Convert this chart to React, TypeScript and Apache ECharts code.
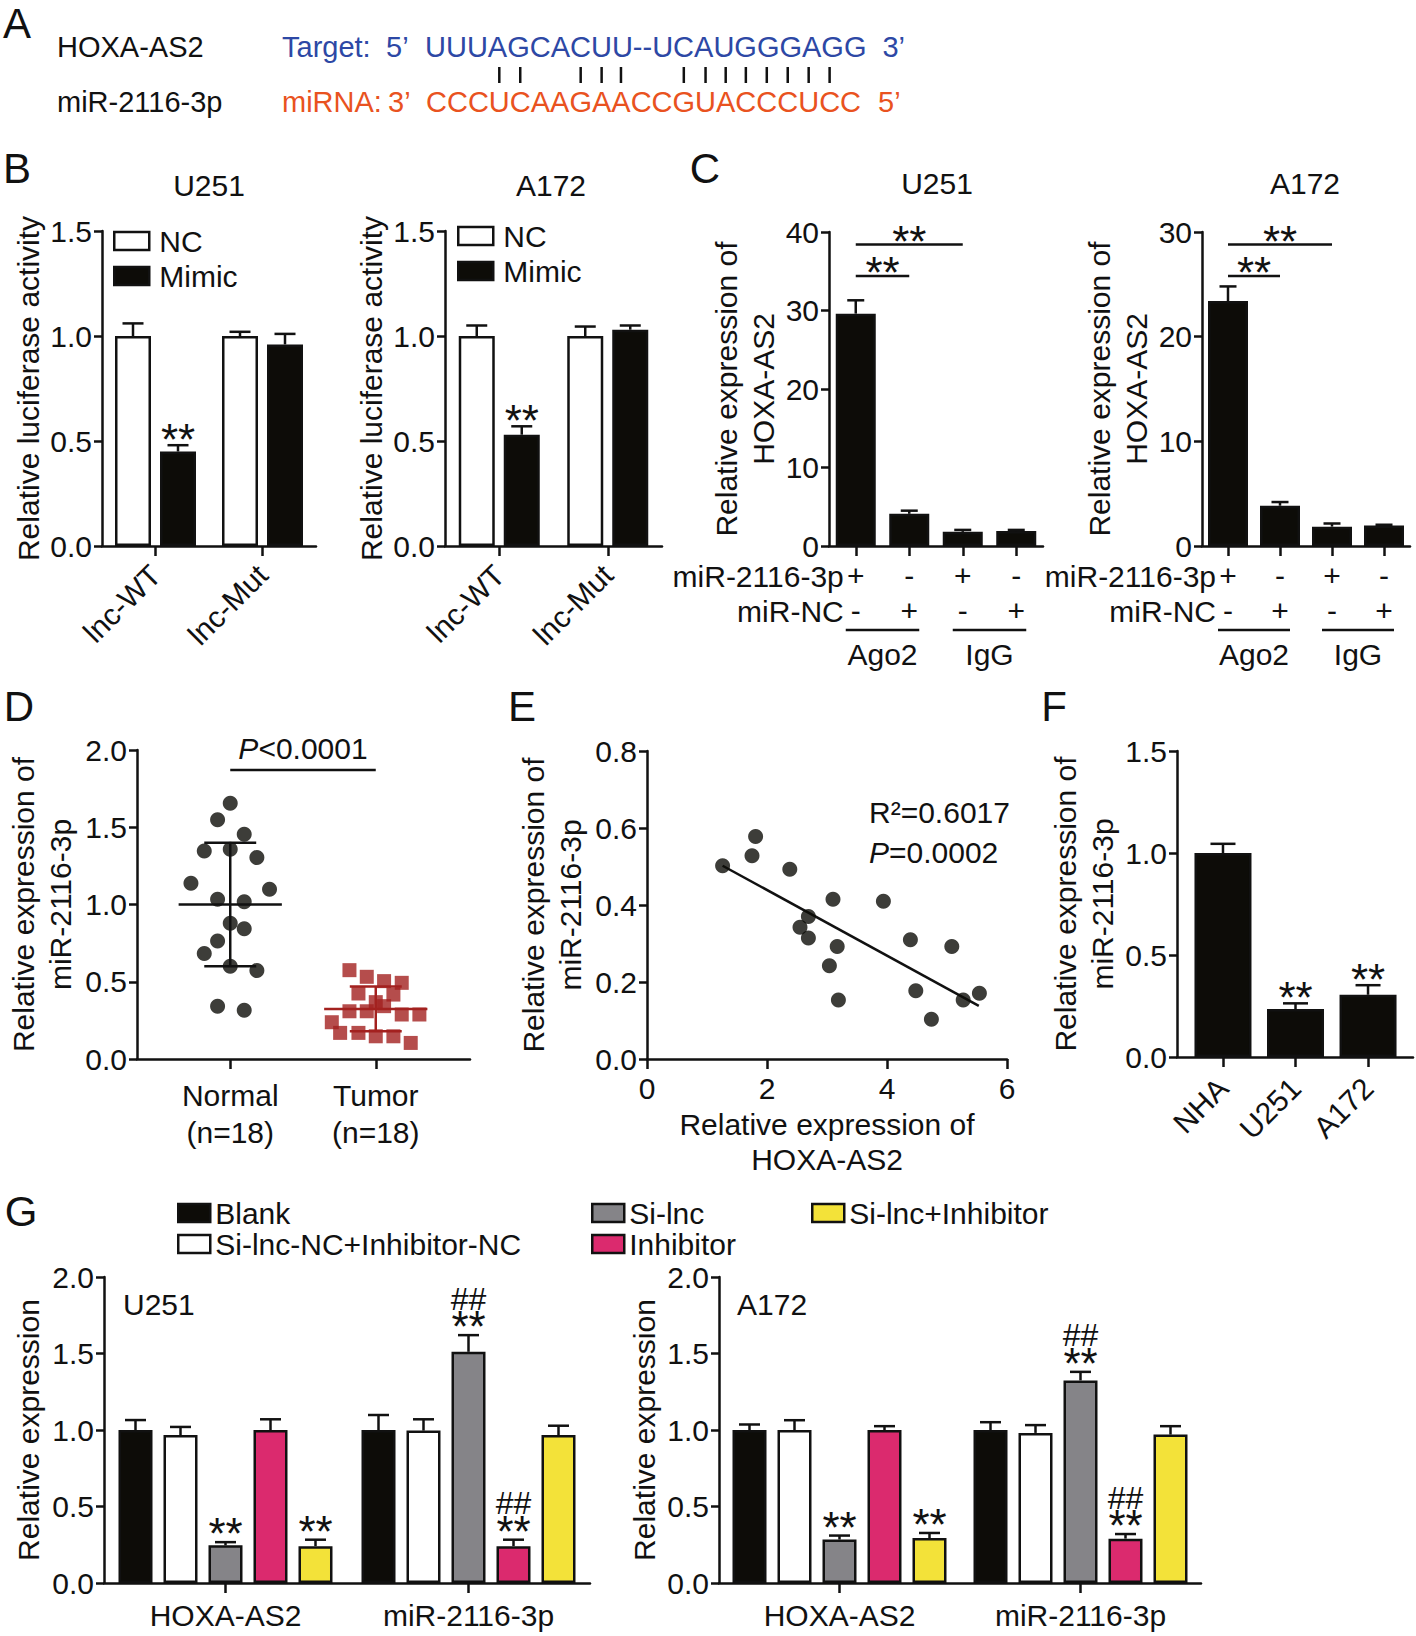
import React, { useEffect, useRef } from "react";
import * as echarts from "echarts";

const FONT = "'Liberation Sans', Arial, Helvetica, sans-serif";
const INK = "#111111";
const BLACK_FILL = "#0d0c08";
const WHITE_FILL = "#ffffff";
const GRAY_FILL = "#858488";
const PINK_FILL = "#db2a6e";
const YELLOW_FILL = "#f3e239";
const TUMOR_RED = "#a3211f";
const SEQ_BLUE = "#2d48a5";
const SEQ_ORANGE = "#e95220";

// ---------------- Panel letters ----------------
const panelLetters = ["A", "B", "C", "D", "E", "F", "G"];

// ---------------- Panel A ----------------
const aRowLabels = ["HOXA-AS2", "miR-2116-3p"];
const aTargetParts = ["Target:", "5’", "UUUAGCACUU--UCAUGGGAGG", "3’"];
const aMirnaParts = ["miRNA:", "3’", "CCCUCAAGAACCGUACCCUCC", "5’"];
const aPairedIdx = [3, 4, 7, 8, 9, 12, 13, 14, 15, 16, 17, 18, 19];

// ---------------- Panel B ----------------
const bTitles = ["U251", "A172"];
const bCategories = ["lnc-WT", "lnc-Mut"];
const bSeries = ["NC", "Mimic"];
const bU251NC = [1.0, 1.0];
const bU251NCErr = [0.06, 0.02];
const bU251Mimic = [0.45, 0.96];
const bU251MimicErr = [0.03, 0.05];
const bA172NC = [1.0, 1.0];
const bA172NCErr = [0.05, 0.045];
const bA172Mimic = [0.53, 1.03];
const bA172MimicErr = [0.04, 0.02];
const bMimicMarks = ["**", ""];
const bYName = "Relative luciferase activity";

// ---------------- Panel C ----------------
const cTitles = ["U251", "A172"];
const cConditions = ["Ago2 miR-2116-3p", "Ago2 miR-NC", "IgG miR-2116-3p", "IgG miR-NC"];
const cRowNames = ["miR-2116-3p", "miR-NC"];
const cMiRRow = ["+", "-", "+", "-"];
const cNCRow = ["-", "+", "-", "+"];
const cGroups = ["Ago2", "IgG"];
const cGroupSpans = [[0, 1], [2, 3]];
const cU251 = [29.6, 4.1, 1.8, 1.9];
const cU251Err = [1.7, 0.4, 0.25, 0.15];
const cA172 = [23.4, 3.85, 1.85, 1.95];
const cA172Err = [1.4, 0.35, 0.3, 0.08];
const cU251Brackets = [[0, 2, 38.4], [0, 1, 34.4]];
const cA172Brackets = [[0, 2, 28.8], [0, 1, 25.8]];
const cYName = "Relative expression of\nHOXA-AS2";

// ---------------- Panel D ----------------
const dGroupPos = [0.28, 0.717];
const dCategories = ["Normal\n(n=18)", "Tumor\n(n=18)"];
const dNormalValues = [1.656, 1.548, 1.455, 1.347, 1.358, 1.304, 1.137, 1.098, 1.034, 1.018, 0.878, 0.843, 0.763, 0.683, 0.601, 0.573, 0.342, 0.316];
const dNormalOffsets = [0, -0.038, 0.042, -0.078, 0, 0.08, -0.118, 0.118, -0.038, 0.042, 0, 0.042, -0.038, -0.078, 0, 0.08, -0.038, 0.042];
const dTumorValues = [0.575, 0.532, 0.504, 0.493, 0.424, 0.417, 0.368, 0.309, 0.309, 0.342, 0.288, 0.288, 0.238, 0.169, 0.169, 0.147, 0.147, 0.104];
const dTumorOffsets = [-0.079, -0.027, 0.025, 0.078, -0.052, 0.053, 0, -0.079, -0.027, 0.025, 0.078, 0.131, -0.132, -0.107, -0.052, 0, 0.053, 0.105];
const dMean = [1.0, 0.324];
const dSDLow = [0.6, 0.18];
const dSDHigh = [1.4, 0.47];
const dLineColors = [INK, TUMOR_RED];
const dPBracket = [[0.28, 0.717, 1.87]];
const dPText = "{i|P}<0.0001";
const dYName = "Relative expression of\nmiR-2116-3p";

// ---------------- Panel E ----------------
const eHOXA = [1.26, 1.75, 1.81, 2.38, 2.55, 2.69, 2.69, 3.1, 3.17, 3.04, 3.19, 3.94, 4.39, 4.48, 4.74, 5.08, 5.27, 5.54];
const eMiR = [0.502, 0.528, 0.578, 0.493, 0.342, 0.37, 0.314, 0.415, 0.292, 0.242, 0.153, 0.41, 0.31, 0.177, 0.103, 0.292, 0.153, 0.171];
const eFitX = [1.26, 5.53];
const eFitY = [0.502, 0.138];
const eStats = ["R²=0.6017", "{i|P}=0.0002"];
const eStatsPos = [[3.7, 0.64], [3.7, 0.537]];
const eXName = "Relative expression of\nHOXA-AS2";
const eYName = "Relative expression of\nmiR-2116-3p";

// ---------------- Panel F ----------------
const fCategories = ["NHA", "U251", "A172"];
const fValues = [1.0, 0.235, 0.305];
const fErr = [0.045, 0.028, 0.047];
const fMarks = ["", "**", "**"];
const fYName = "Relative expression of\nmiR-2116-3p";

// ---------------- Panel G ----------------
const gTitles = ["U251", "A172"];
const gCategories = ["HOXA-AS2", "miR-2116-3p"];
const gGroups = ["Blank", "Si-lnc-NC+Inhibitor-NC", "Si-lnc", "Inhibitor", "Si-lnc+Inhibitor"];
const gColors = [BLACK_FILL, WHITE_FILL, GRAY_FILL, PINK_FILL, YELLOW_FILL];
const gU251Values = [
  [1.0, 1.0],
  [0.967, 0.996],
  [0.246, 1.511],
  [1.0, 0.241],
  [0.241, 0.967],
];
const gU251Err = [
  [0.065, 0.098],
  [0.053, 0.074],
  [0.021, 0.109],
  [0.07, 0.042],
  [0.042, 0.061],
];
const gA172Values = [
  [1.0, 1.0],
  [1.0, 0.981],
  [0.284, 1.324],
  [1.0, 0.29],
  [0.294, 0.97],
];
const gA172Err = [
  [0.036, 0.051],
  [0.064, 0.051],
  [0.026, 0.056],
  [0.025, 0.03],
  [0.033, 0.055],
];
const gMarks = [
  ["", ""],
  ["", ""],
  ["**", "##**"],
  ["", "##**"],
  ["**", ""],
];
const gYName = "Relative expression";

// ================= helpers =================
const LINE = { color: INK, width: 2.5 };
const txt = (size: number) => ({ color: INK, fontSize: size, fontFamily: FONT });

function st(text: string, size: number, align: string, color: string = INK, extra: any = {}) {
  return {
    text,
    fill: color,
    fontSize: size,
    fontFamily: FONT,
    align,
    textAlign: align,
    verticalAlign: "middle",
    textVerticalAlign: "middle",
    ...extra,
  };
}
function textEl(x: number, y: number, text: string, size: number, align = "center", color = INK, extra: any = {}) {
  return { type: "text", x, y, style: st(text, size, align, color, extra) };
}
const italicRich = { i: { fontStyle: "italic", fontSize: 30, fontFamily: FONT, fill: INK } };

function lineEl(x1: number, y1: number, x2: number, y2: number, color = INK, w = 2.5) {
  return { type: "line", shape: { x1, y1, x2, y2 }, style: { stroke: color, lineWidth: w } };
}

function sigMarks(x: number, inkBottom: number, m: string) {
  if (!m) return [];
  if (m.indexOf("##") === 0) {
    const yb = inkBottom + 16.5;
    return [
      {
        type: "text",
        x,
        y: yb,
        style: {
          text: "{h|##}\n{s|**}",
          rich: {
            h: { fontSize: 32, fontFamily: FONT, fill: INK, lineHeight: 30, align: "center" },
            s: { fontSize: 44, fontFamily: FONT, fill: INK, lineHeight: 26, align: "center" },
          },
          fill: INK,
          fontSize: 30,
          fontFamily: FONT,
          align: "center",
          textAlign: "center",
          verticalAlign: "bottom",
          textVerticalAlign: "bottom",
        },
      },
    ];
  }
  const starCenter = inkBottom - 6.5;
  return [textEl(x, starCenter + 10, "**", 44)];
}

function valueY(gi: number, max: number, interval: number, decimals: number, name: string, nameGap: number, lineHeight = 37) {
  return {
    type: "value",
    gridIndex: gi,
    min: 0,
    max,
    interval,
    axisLine: { show: true, onZero: false, lineStyle: LINE },
    axisTick: { show: true, length: 8, lineStyle: LINE },
    splitLine: { show: false },
    axisLabel: { ...txt(30), margin: 10, formatter: (v: number) => v.toFixed(decimals) },
    name,
    nameLocation: "middle",
    nameGap,
    nameTextStyle: { ...txt(30), lineHeight },
  };
}

function categoryX(gi: number, data: string[], extra: any = {}) {
  return {
    type: "category",
    gridIndex: gi,
    data,
    axisLine: { show: true, onZero: false, lineStyle: LINE },
    axisTick: { show: true, alignWithLabel: true, length: 10, lineStyle: LINE },
    splitLine: { show: false },
    axisLabel: { ...txt(30), interval: 0, margin: 14, ...extra },
  };
}

function barSeries(name: string, gi: number, data: any[], color: string, barWidth: number, barGap: string) {
  return {
    type: "bar",
    name,
    xAxisIndex: gi,
    yAxisIndex: gi,
    data,
    barWidth,
    barGap,
    silent: true,
    z: 2,
    itemStyle: { color, borderColor: INK, borderWidth: 2.5 },
  };
}

function errSeries(gi: number, values: number[], errs: number[], n: number, idx: number, W: number, gap: number, capHalf: number, marks: string[] | null, markGap = 9) {
  return {
    type: "custom",
    xAxisIndex: gi,
    yAxisIndex: gi,
    silent: true,
    z: 3,
    data: values.map((v, i) => [i, v, errs[i]]),
    renderItem: (params: any, api: any) => {
      const i = api.value(0);
      const v = api.value(1);
      const e = api.value(2);
      const base = api.coord([i, v]);
      const top = api.coord([i, v + e]);
      const x = base[0] + (idx - (n - 1) / 2) * (W + gap);
      const children: any[] = [lineEl(x, base[1], x, top[1]), lineEl(x - capHalf, top[1], x + capHalf, top[1])];
      const m = marks ? marks[params.dataIndex] : "";
      if (m) children.push(...sigMarks(x, top[1] - markGap, m));
      return { type: "group", children };
    },
  };
}

function bracketSeries(gi: number, data: number[][]) {
  return {
    type: "custom",
    xAxisIndex: gi,
    yAxisIndex: gi,
    silent: true,
    z: 3,
    data,
    renderItem: (_p: any, api: any) => {
      const a = api.coord([api.value(0), api.value(2)]);
      const b = api.coord([api.value(1), api.value(2)]);
      return {
        type: "group",
        children: [lineEl(a[0], a[1], b[0], b[1]), ...sigMarks((a[0] + b[0]) / 2, a[1] - 7, "**")],
      };
    },
  };
}

function cRowLabelSeries(gi: number) {
  return {
    type: "custom",
    xAxisIndex: gi,
    yAxisIndex: gi,
    silent: true,
    z: 3,
    data: [[0, 0]],
    renderItem: (_p: any, api: any) => {
      const p = api.coord([api.value(0), 0]);
      return {
        type: "group",
        children: [textEl(p[0] - 12, p[1] + 30, cRowNames[0], 30, "right"), textEl(p[0] - 12, p[1] + 65, cRowNames[1], 30, "right")],
      };
    },
  };
}

function cGroupSeries(gi: number) {
  return {
    type: "custom",
    xAxisIndex: gi,
    yAxisIndex: gi,
    silent: true,
    z: 3,
    data: cGroupSpans,
    renderItem: (params: any, api: any) => {
      const a = api.coord([api.value(0), 0]);
      const b = api.coord([api.value(1), 0]);
      const x1 = a[0] - 10;
      const x2 = b[0] + 10;
      return {
        type: "group",
        children: [lineEl(x1, a[1] + 84, x2, a[1] + 84), textEl((x1 + x2) / 2, a[1] + 108, cGroups[params.dataIndex], 30)],
      };
    },
  };
}

function legendAt(left: number, top: number, data: string[], w: number, h: number, gap: number, textPad: number) {
  return {
    left,
    top,
    orient: "vertical",
    data,
    itemWidth: w,
    itemHeight: h,
    itemGap: gap,
    padding: 0,
    icon: "rect",
    selectedMode: false,
    textStyle: { ...txt(30), padding: [0, 0, 0, textPad] },
    itemStyle: { borderColor: INK, borderWidth: 2.5 },
  };
}

function measure(text: string, size: number) {
  const ctx = document.createElement("canvas").getContext("2d");
  if (!ctx) return text.length * size * 0.7;
  ctx.font = `${size}px ${FONT}`;
  return ctx.measureText(text).width;
}

function buildOption() {
  const grids = [
    { left: 102, top: 231, width: 214, height: 315 },
    { left: 445, top: 231, width: 217, height: 315 },
    { left: 829, top: 232, width: 214, height: 314 },
    { left: 1202, top: 232, width: 208, height: 314 },
    { left: 137, top: 750, width: 333, height: 309 },
    { left: 647, top: 751, width: 360, height: 308 },
    { left: 1177, top: 751, width: 236, height: 306 },
    { left: 104, top: 1277, width: 486, height: 306 },
    { left: 719, top: 1277, width: 482, height: 306 },
  ];

  const cLabelFmt = (_v: string, i: number) => `${cMiRRow[i]}\n${cNCRow[i]}`;
  const fTickPos = fCategories.map((_c, i) => i);

  const xAxis: any[] = [
    categoryX(0, bCategories, { rotate: 45, margin: 24 }),
    categoryX(1, bCategories, { rotate: 45, margin: 24 }),
    categoryX(2, cConditions, { formatter: cLabelFmt, lineHeight: 35, margin: 12 }),
    categoryX(3, cConditions, { formatter: cLabelFmt, lineHeight: 35, margin: 12 }),
    {
      type: "value",
      gridIndex: 4,
      min: 0,
      max: 1,
      axisLine: { show: true, onZero: false, lineStyle: LINE },
      axisTick: { show: true, length: 10, lineStyle: LINE, customValues: dGroupPos },
      splitLine: { show: false },
      axisLabel: {
        ...txt(30),
        margin: 18,
        lineHeight: 37,
        customValues: dGroupPos,
        formatter: (v: number) => (Math.abs(v - dGroupPos[0]) < Math.abs(v - dGroupPos[1]) ? dCategories[0] : dCategories[1]),
      },
    },
    {
      type: "value",
      gridIndex: 5,
      min: 0,
      max: 6,
      interval: 2,
      axisLine: { show: true, onZero: false, lineStyle: LINE },
      axisTick: { show: true, length: 10, lineStyle: LINE },
      splitLine: { show: false },
      axisLabel: { ...txt(30), margin: 14 },
      name: eXName,
      nameLocation: "middle",
      nameGap: 48,
      nameTextStyle: { ...txt(30), lineHeight: 35 },
    },
    {
      type: "value",
      gridIndex: 6,
      min: -0.634,
      max: 2.62,
      axisLine: { show: true, onZero: false, lineStyle: LINE },
      axisTick: { show: true, length: 10, lineStyle: LINE, customValues: fTickPos },
      splitLine: { show: false },
      axisLabel: {
        ...txt(30),
        margin: 26,
        rotate: 45,
        customValues: fTickPos,
        formatter: (v: number) => fCategories[Math.round(v)] || "",
      },
    },
    categoryX(7, gCategories, { margin: 17 }),
    categoryX(8, gCategories, { margin: 17 }),
  ];

  const yAxis: any[] = [
    valueY(0, 1.5, 0.5, 1, bYName, 59, 30),
    valueY(1, 1.5, 0.5, 1, bYName, 59, 30),
    valueY(2, 40, 10, 0, cYName, 42),
    valueY(3, 30, 10, 0, cYName, 45),
    valueY(4, 2.0, 0.5, 1, dYName, 58),
    valueY(5, 0.8, 0.2, 1, eYName, 58),
    valueY(6, 1.5, 0.5, 1, fYName, 51),
    valueY(7, 2.0, 0.5, 1, gYName, 61, 30),
    valueY(8, 2.0, 0.5, 1, gYName, 60, 30),
  ];

  const series: any[] = [];

  // ---- B ----
  const bSets: any[] = [
    [0, bU251NC, bU251NCErr, bU251Mimic, bU251MimicErr],
    [1, bA172NC, bA172NCErr, bA172Mimic, bA172MimicErr],
  ];
  bSets.forEach(([gi, nc, ncE, mi, miE]) => {
    series.push(barSeries(bSeries[0], gi, nc, WHITE_FILL, 36, "25%"));
    series.push(barSeries(bSeries[1], gi, mi, BLACK_FILL, 36, "25%"));
    series.push(errSeries(gi, nc, ncE, 2, 0, 36, 9, 10.5, null));
    series.push(errSeries(gi, mi, miE, 2, 1, 36, 9, 10.5, bMimicMarks));
  });

  // ---- C ----
  const cSets: any[] = [
    [2, cU251, cU251Err, cU251Brackets],
    [3, cA172, cA172Err, cA172Brackets],
  ];
  cSets.forEach(([gi, v, e, br]) => {
    series.push(barSeries("HOXA-AS2 RIP", gi, v, BLACK_FILL, 40, "0%"));
    series.push(errSeries(gi, v, e, 1, 0, 40, 0, 8.5, null));
    series.push(bracketSeries(gi, br));
    series.push(cRowLabelSeries(gi));
    series.push(cGroupSeries(gi));
  });

  // ---- D ----
  series.push({
    type: "scatter",
    name: "Normal",
    xAxisIndex: 4,
    yAxisIndex: 4,
    symbol: "circle",
    symbolSize: 15,
    silent: true,
    z: 2,
    itemStyle: { color: BLACK_FILL },
    data: dNormalValues.map((v, i) => [dGroupPos[0] + dNormalOffsets[i], v]),
  });
  series.push({
    type: "scatter",
    name: "Tumor",
    xAxisIndex: 4,
    yAxisIndex: 4,
    symbol: "rect",
    symbolSize: 14,
    silent: true,
    z: 2,
    itemStyle: { color: TUMOR_RED },
    data: dTumorValues.map((v, i) => [dGroupPos[1] + dTumorOffsets[i], v]),
  });
  series.push({
    type: "custom",
    xAxisIndex: 4,
    yAxisIndex: 4,
    silent: true,
    z: 4,
    data: dGroupPos.map((p, i) => [p, dMean[i], dSDLow[i], dSDHigh[i]]),
    renderItem: (params: any, api: any) => {
      const p = api.value(0);
      const m = api.value(1);
      const lo = api.value(2);
      const hi = api.value(3);
      const col = dLineColors[params.dataIndex];
      const seg = (xa: number, ya: number, xb: number, yb: number) => {
        const a = api.coord([xa, ya]);
        const b = api.coord([xb, yb]);
        return lineEl(a[0], a[1], b[0], b[1], col);
      };
      return {
        type: "group",
        children: [seg(p - 0.155, m, p + 0.155, m), seg(p, lo, p, hi), seg(p - 0.078, lo, p + 0.078, lo), seg(p - 0.078, hi, p + 0.078, hi)],
      };
    },
  });
  series.push({
    type: "custom",
    xAxisIndex: 4,
    yAxisIndex: 4,
    silent: true,
    z: 4,
    data: dPBracket,
    renderItem: (_p: any, api: any) => {
      const a = api.coord([api.value(0), api.value(2)]);
      const b = api.coord([api.value(1), api.value(2)]);
      return {
        type: "group",
        children: [lineEl(a[0], a[1], b[0], b[1]), textEl((a[0] + b[0]) / 2, a[1] - 22, dPText, 30, "center", INK, { rich: italicRich })],
      };
    },
  });

  // ---- E ----
  series.push({
    type: "scatter",
    name: "Tissue pairs",
    xAxisIndex: 5,
    yAxisIndex: 5,
    symbol: "circle",
    symbolSize: 15,
    silent: true,
    z: 3,
    itemStyle: { color: BLACK_FILL },
    data: eHOXA.map((x, i) => [x, eMiR[i]]),
  });
  series.push({
    type: "line",
    name: "Fit",
    xAxisIndex: 5,
    yAxisIndex: 5,
    symbol: "none",
    silent: true,
    z: 2,
    lineStyle: { color: INK, width: 2.5 },
    data: eFitX.map((x, i) => [x, eFitY[i]]),
  });
  series.push({
    type: "custom",
    xAxisIndex: 5,
    yAxisIndex: 5,
    silent: true,
    z: 4,
    data: eStatsPos,
    renderItem: (params: any, api: any) => {
      const p = api.coord([api.value(0), api.value(1)]);
      return textEl(p[0], p[1], eStats[params.dataIndex], 30, "left", INK, { rich: italicRich });
    },
  });

  // ---- F ----
  series.push(barSeries("miR-2116-3p level", 6, fValues.map((v, i) => [i, v]), BLACK_FILL, 57, "0%"));
  series.push(errSeries(6, fValues, fErr, 1, 0, 57, 0, 12.5, fMarks));

  // ---- G ----
  const gSets: any[] = [
    [7, gU251Values, gU251Err],
    [8, gA172Values, gA172Err],
  ];
  gSets.forEach(([gi, vals, errs]) => {
    gGroups.forEach((name, k) => {
      series.push(barSeries(name, gi, vals[k], gColors[k], 34, "32.35%"));
    });
    gGroups.forEach((_name, k) => {
      series.push(errSeries(gi, vals[k], errs[k], 5, k, 34, 11, 10.5, gMarks[k], 12));
    });
  });

  // ---- static graphics ----
  const letterPos = [
    [17, 23],
    [17, 168],
    [705, 168],
    [19, 706],
    [522, 706],
    [1054, 706],
    [21, 1211],
  ];
  const graphic: any[] = [];
  panelLetters.forEach((L, i) => graphic.push(textEl(letterPos[i][0], letterPos[i][1], L, 42)));
  graphic.push(textEl(209, 185, bTitles[0], 30));
  graphic.push(textEl(551, 185, bTitles[1], 30));
  graphic.push(textEl(937, 183, cTitles[0], 30));
  graphic.push(textEl(1305, 183, cTitles[1], 30));
  graphic.push(textEl(123, 1304, gTitles[0], 30, "left"));
  graphic.push(textEl(737, 1304, gTitles[1], 30, "left"));

  // Panel A
  const aSize = 29;
  const yTop = 47;
  const yBot = 102;
  graphic.push(textEl(57, yTop, aRowLabels[0], aSize, "left"));
  graphic.push(textEl(57, yBot, aRowLabels[1], aSize, "left"));
  const tStart = 425;
  const mStart = 426;
  graphic.push(textEl(282, yTop, aTargetParts[0], aSize, "left", SEQ_BLUE));
  graphic.push(textEl(386, yTop, aTargetParts[1], aSize, "left", SEQ_BLUE));
  graphic.push(textEl(tStart, yTop, aTargetParts[2], aSize, "left", SEQ_BLUE));
  graphic.push(textEl(tStart + measure(aTargetParts[2], aSize) + 16, yTop, aTargetParts[3], aSize, "left", SEQ_BLUE));
  graphic.push(textEl(282, yBot, aMirnaParts[0], aSize, "left", SEQ_ORANGE));
  graphic.push(textEl(388, yBot, aMirnaParts[1], aSize, "left", SEQ_ORANGE));
  graphic.push(textEl(mStart, yBot, aMirnaParts[2], aSize, "left", SEQ_ORANGE));
  graphic.push(textEl(mStart + measure(aMirnaParts[2], aSize) + 17, yBot, aMirnaParts[3], aSize, "left", SEQ_ORANGE));
  const seq = aMirnaParts[2];
  aPairedIdx.forEach((k) => {
    const x = mStart + measure(seq.slice(0, k), aSize) + measure(seq[k], aSize) / 2;
    graphic.push(lineEl(x, 67, x, 83));
  });

  return {
    animation: false,
    backgroundColor: "#ffffff",
    textStyle: { fontFamily: FONT },
    grid: grids,
    xAxis,
    yAxis,
    legend: [
      legendAt(113, 226, bSeries, 35, 18, 5, 5),
      legendAt(457, 221, bSeries, 35, 18, 5, 5),
      legendAt(177, 1198, [gGroups[0], gGroups[1]], 32, 18, 1, 0),
      legendAt(591, 1198, [gGroups[2], gGroups[3]], 32, 18, 1, 0),
      legendAt(811, 1198, [gGroups[4]], 32, 18, 1, 0),
    ],
    series,
    graphic: { elements: graphic },
  };
}

export default function App() {
  const ref = useRef<HTMLDivElement>(null);
  useEffect(() => {
    document.body.style.margin = "0";
    const chart = echarts.init(ref.current as HTMLDivElement, null, { renderer: "svg" });
    chart.setOption(buildOption() as any);
    return () => chart.dispose();
  }, []);
  return <div ref={ref} style={{ width: 1416, height: 1636, background: "#ffffff" }} />;
}
